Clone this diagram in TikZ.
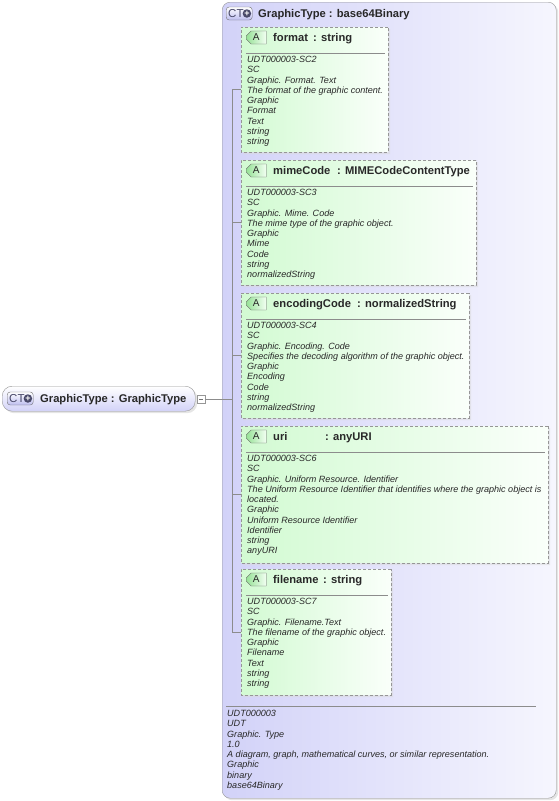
\documentclass[tikz,border=0pt]{standalone}
\usepackage{fontspec}
\setmainfont{Liberation Sans}
\usetikzlibrary{positioning,shapes.misc,shadows}

\definecolor{ctfill}{RGB}{210,210,248}
\definecolor{ctlight}{RGB}{246,246,254}
\definecolor{attrfill}{RGB}{210,250,210}
\definecolor{attrlight}{RGB}{250,255,250}
\definecolor{edgegray}{RGB}{150,150,150}
\definecolor{badgegreen}{RGB}{150,225,150}
\definecolor{badgeblue}{RGB}{190,190,240}
\definecolor{plusdark}{RGB}{72,72,104}
\definecolor{inkdark}{RGB}{40,40,40}

\newcommand\hdfont{\fontsize{11.2}{12}\selectfont\bfseries}
\newcommand\docfont{\fontsize{9.05}{10.25}\selectfont\itshape}

\tikzset{
  ctbox/.style={draw=edgegray, rounded corners=8pt, left color=ctfill, right color=ctlight,
    inner sep=0, drop shadow={shadow xshift=2pt, shadow yshift=-2pt, fill=black!20}},
  gtbox/.style={draw=edgegray, rounded corners=10pt, top color=white, bottom color=ctfill,
    inner sep=0, drop shadow={shadow xshift=2pt, shadow yshift=-2pt, fill=black!20}},
  attrbox/.style={draw=edgegray, dash pattern=on 3pt off 2pt, chamfered rectangle,
    chamfered rectangle corners={north west,south west}, chamfered rectangle sep=5pt,
    left color=attrfill, right color=attrlight, inner sep=0,
    drop shadow={shadow xshift=2pt, shadow yshift=-2pt, fill=black!15}},
  abadge/.style={draw=black!60, chamfered rectangle, chamfered rectangle corners={north west,south west},
    chamfered rectangle sep=2.5pt, left color=badgegreen, right color=green!5, inner sep=0,
    minimum width=20, minimum height=13, font=\fontsize{10}{10}\selectfont, text=inkdark},
  ctbadge/.style={draw=black!55, rounded corners=3pt, top color=white, bottom color=badgeblue,
    inner sep=0, minimum width=26, minimum height=13},
  cttext/.style={anchor=west, inner sep=0, font=\fontsize{11.5}{12}\selectfont, text=plusdark},
  plusdot/.style={circle, fill=plusdark, minimum size=8.5, inner sep=0, text=white,
    font=\fontsize{9}{9}\selectfont\bfseries},
  minusbox/.style={draw=edgegray, fill=white, minimum size=8, inner sep=0},
  sepline/.style={draw=black!45, line width=0.6pt},
  wire/.style={draw=black!45, line width=0.5pt},
  doc/.style={anchor=north west, align=left, inner sep=0, font=\docfont, text=inkdark},
  head/.style={anchor=base west, inner sep=0, font=\hdfont, text=inkdark}
}

\begin{document}
\begin{tikzpicture}[x=1pt, y=-1pt]
  \useasboundingbox (0,0) rectangle (559,801);

  % complex type container
  \node[ctbox, minimum width=334, minimum height=796, anchor=north west] (ct) at (222,2) {};
  \node[ctbadge, anchor=west] (ct-badge) at (226,13.5) {};
  \node[cttext] at ([xshift=2pt]ct-badge.west) {CT};
  \node[plusdot] at ([xshift=-5.5pt]ct-badge.east) {+};
  \node[head] (ct-title) at (258,17.5) {GraphicType : base64Binary};

  % element
  \node[gtbox, minimum width=193, minimum height=25, anchor=north west] (gt) at (2,386) {};
  \node[ctbadge, anchor=west] (gt-badge) at (7,398.5) {};
  \node[cttext] at ([xshift=2pt]gt-badge.west) {CT};
  \node[plusdot] at ([xshift=-5.5pt]gt-badge.east) {+};
  \node[head] (gt-title) at (40,402.5) {GraphicType : GraphicType};
  \node[minusbox] (gt-minus) at (201,399) {};
  \draw[black!55] ([xshift=-2pt]gt-minus.center) -- ([xshift=2pt]gt-minus.center);

  % attributes
  \foreach \by/\bh/\bw/\nm/\cx/\tp in {
    27/125/147/format/313/string,
    160/125/235/mimeCode/337/MIMECodeContentType,
    293/125/228/encodingCode/357/normalizedString,
    426/137/307/uri/325/anyURI,
    569/126/150/filename/323/string
  }
  {
    \node[attrbox, minimum width=\bw, minimum height=\bh, anchor=north west] (\nm) at (241,\by) {};
    \node[abadge, anchor=west] (\nm-a) at (246,\by+10.5) {A};
    \node[head] (\nm-name) at (273,\by+14.5) {\nm};
    \node[head] (\nm-type) at (\cx,\by+14.5) {: \tp};
    \draw[sepline] (246,\by+26) -- (238+\bw,\by+26);
  }

  \node[doc] (format-doc) at (247,56) {UDT000003-SC2\\SC\\Graphic. Format. Text\\The format of the graphic content.\\Graphic\\Format\\Text\\string\\string};
  \node[doc] (mimeCode-doc) at (247,189) {UDT000003-SC3\\SC\\Graphic. Mime. Code\\The mime type of the graphic object.\\Graphic\\Mime\\Code\\string\\normalizedString};
  \node[doc] (encodingCode-doc) at (247,322) {UDT000003-SC4\\SC\\Graphic. Encoding. Code\\Specifies the decoding algorithm of the graphic object.\\Graphic\\Encoding\\Code\\string\\normalizedString};
  \node[doc] (uri-doc) at (247,455) {UDT000003-SC6\\SC\\Graphic. Uniform Resource. Identifier\\The Uniform Resource Identifier that identifies where the graphic object is\\located.\\Graphic\\Uniform Resource Identifier\\Identifier\\string\\anyURI};
  \node[doc] (filename-doc) at (247,598) {UDT000003-SC7\\SC\\Graphic. Filename.Text\\The filename of the graphic object.\\Graphic\\Filename\\Text\\string\\string};

  % connectors
  \foreach \nm in {format,mimeCode,encodingCode,uri,filename}
    \draw[wire] (\nm.west) -- ++(-9,0) coordinate (bus-\nm);
  \coordinate (bus-in) at (232,399);
  \draw[wire] (bus-format) -- (bus-filename);
  \draw[wire] (gt-minus.east) -- (bus-in);

  % type documentation
  \draw[sepline] (226,706) -- (536,706);
  \node[doc] (ct-doc) at (227,710) {UDT000003\\UDT\\Graphic. Type\\1.0\\A diagram, graph, mathematical curves, or similar representation.\\Graphic\\binary\\base64Binary};
\end{tikzpicture}
\end{document}
